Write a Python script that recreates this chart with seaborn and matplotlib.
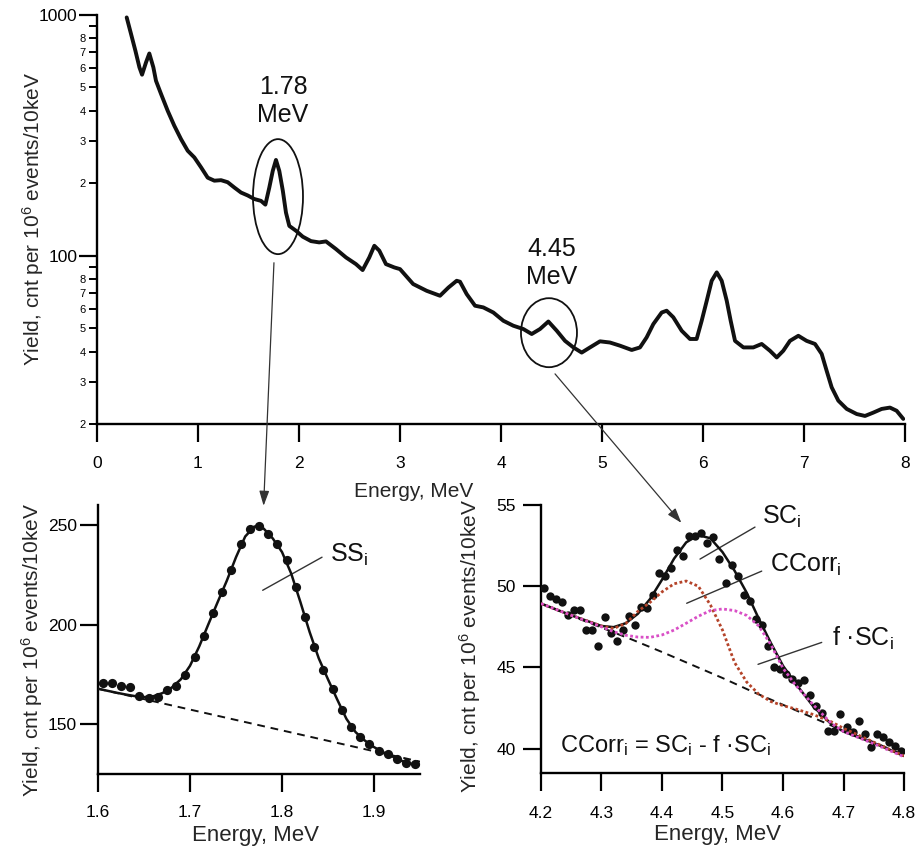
import matplotlib
matplotlib.use("Agg")
import matplotlib.pyplot as plt
import matplotlib.ticker as mticker
from matplotlib.patches import Ellipse, ConnectionPatch
from matplotlib.transforms import IdentityTransform
import seaborn as sns

# ---------------- full gamma spectrum (log scale) ----------------
spectrum_energy = [
    0.294, 0.337, 0.380, 0.420, 0.446, 0.485, 0.518, 0.558, 0.584, 0.634,
    0.700, 0.765, 0.832, 0.898, 0.964, 1.030, 1.096, 1.162, 1.228, 1.294,
    1.360, 1.426, 1.492, 1.558, 1.624, 1.667, 1.706, 1.740, 1.772, 1.805,
    1.840, 1.871, 1.904, 1.970, 2.037, 2.119, 2.200, 2.267, 2.366, 2.465,
    2.564, 2.630, 2.696, 2.746, 2.795, 2.861, 2.944, 3.000, 3.130, 3.264,
    3.396, 3.480, 3.561, 3.594, 3.660, 3.743, 3.825, 3.924, 4.023, 4.122,
    4.221, 4.304, 4.386, 4.469, 4.552, 4.634, 4.717, 4.799, 4.881, 4.980,
    5.079, 5.178, 5.294, 5.376, 5.442, 5.508, 5.591, 5.640, 5.706, 5.789,
    5.871, 5.937, 5.987, 6.037, 6.086, 6.136, 6.185, 6.235, 6.274, 6.317,
    6.400, 6.498, 6.581, 6.663, 6.730, 6.795, 6.861, 6.944, 7.026, 7.109,
    7.175, 7.224, 7.274, 7.340, 7.423, 7.522, 7.604, 7.686, 7.769, 7.851,
    7.917, 7.983,
]
spectrum_yield = [
    977, 834, 711, 606, 565, 635, 692, 606, 533, 470,
    400, 347, 305, 273, 256, 233, 211, 205, 206, 202,
    192, 183, 178, 172, 169, 163, 192, 225, 250, 225,
    186, 151, 133, 127, 120, 115, 113.6, 114.7, 106.6, 98.4,
    92.3, 87.2, 98.4, 110, 105, 92.3, 89.4, 88, 76.3, 71.5,
    68.2, 73.8, 78.7, 78.0, 69.3, 62, 61, 58.1, 53.7, 51.2,
    49.6, 47.3, 49.6, 53.3, 48.8, 44.3, 41.6, 39.6, 41.6, 44.1,
    43.6, 42.3, 40.6, 41.6, 45.8, 52, 58.1, 59.1, 55.5, 48.8,
    45.1, 45.1, 53.7, 65, 78.7, 85.3, 78.7, 65, 53.7, 44.3,
    41.6, 41.6, 43, 40.3, 37.8, 40.3, 44.3, 46.5, 44.3, 43,
    39.1, 33.3, 28.4, 25, 23.1, 22, 21.6, 22.3, 23.1, 23.4,
    22.7, 21,
]
major_yticks = [100, 1000]
major_ylabels = ["100", "1000"]
minor_yticks = [20, 30, 40, 50, 60, 70, 80, 90,
                200, 300, 400, 500, 600, 700, 800, 900]
top_xticks = [0, 1, 2, 3, 4, 5, 6, 7, 8]

# ---------------- 1.78 MeV peak ----------------
ss_energy = [
    1.605, 1.615, 1.625, 1.635, 1.645, 1.655, 1.665, 1.675, 1.685, 1.695,
    1.705, 1.715, 1.725, 1.735, 1.745, 1.755, 1.765, 1.775, 1.785, 1.795,
    1.805, 1.815, 1.825, 1.835, 1.845, 1.855, 1.865, 1.875, 1.885, 1.895,
    1.905, 1.915, 1.925, 1.935, 1.945,
]
ss_yield = [
    170.5, 170.5, 169.2, 168.7, 164.1, 163.3, 163.8, 167.0, 169.2, 174.7,
    183.8, 194.4, 205.7, 216.3, 227.3, 240.4, 248.0, 249.7, 245.5, 240.2,
    232.3, 218.9, 203.7, 188.9, 177.1, 167.8, 156.9, 148.5, 143.4, 140.2,
    136.7, 135.0, 132.7, 130.5, 130.0,
]
ss_fit_energy = [
    1.60, 1.61, 1.62, 1.63, 1.64, 1.65, 1.66, 1.67, 1.68, 1.69,
    1.70, 1.71, 1.72, 1.73, 1.74, 1.75, 1.76, 1.77, 1.78, 1.79,
    1.80, 1.81, 1.82, 1.83, 1.84, 1.85, 1.86, 1.87, 1.88, 1.89,
    1.90, 1.91, 1.92, 1.93, 1.94, 1.95,
]
ss_fit = [
    167.8, 166.8, 165.8, 164.9, 164.1, 163.6, 164.0, 165.6, 168.3, 172.5,
    179.3, 189.0, 200.2, 211.2, 222.0, 233.8, 244.2, 249.2, 248.2, 243.2,
    236.4, 225.6, 211.3, 196.3, 183.0, 172.5, 162.4, 152.7, 146.0, 141.8,
    138.5, 135.9, 133.8, 131.6, 130.2, 129.5,
]
ss_bg_energy = [1.60, 1.95]
ss_bg = [167.8, 131.2]
ss_xticks = [1.6, 1.7, 1.8, 1.9]
ss_yticks = [150, 200, 250]

# ---------------- 4.45 MeV peak ----------------
sc_energy = [
    4.205, 4.215, 4.225, 4.235, 4.245, 4.255, 4.265, 4.275, 4.285, 4.295,
    4.305, 4.315, 4.325, 4.335, 4.345, 4.355, 4.365, 4.375, 4.385, 4.395,
    4.405, 4.415, 4.425, 4.435, 4.445, 4.455, 4.465, 4.475, 4.485, 4.495,
    4.505, 4.515, 4.525, 4.535, 4.545, 4.555, 4.565, 4.575, 4.585, 4.595,
    4.605, 4.615, 4.625, 4.635, 4.645, 4.655, 4.665, 4.675, 4.685, 4.695,
    4.705, 4.715, 4.725, 4.735, 4.745, 4.755, 4.765, 4.775, 4.785, 4.795,
]
sc_yield = [
    49.92, 49.40, 49.20, 49.03, 48.21, 48.52, 48.52, 47.33, 47.33, 46.30,
    48.11, 47.12, 46.63, 47.28, 48.15, 47.59, 48.72, 48.68, 49.44, 50.82,
    50.62, 51.15, 52.22, 51.85, 53.09, 53.09, 53.25, 52.63, 53.00, 51.65,
    50.21, 51.30, 50.62, 49.44, 49.09, 48.00, 47.59, 46.30, 45.02, 44.92,
    44.61, 44.30, 44.03, 44.20, 43.31, 42.65, 42.18, 41.11, 41.11, 42.14,
    41.32, 41.01, 41.73, 40.91, 40.12, 40.91, 40.70, 40.39, 40.19, 39.84,
]
sc_curve_energy = [
    4.20, 4.25, 4.30, 4.32, 4.34, 4.36, 4.38, 4.40, 4.42, 4.44,
    4.46, 4.48, 4.50, 4.52, 4.54, 4.56, 4.58, 4.60, 4.62, 4.65,
    4.68, 4.70, 4.75, 4.80,
]
sc_fit = [
    48.93, 48.21, 47.55, 47.48, 47.72, 48.30, 49.20, 50.40, 51.70, 52.70,
    53.15, 52.95, 52.10, 50.95, 49.60, 48.00, 46.50, 45.10, 44.05, 42.60,
    41.50, 41.05, 40.35, 39.55,
]
ccorr_fit = [
    48.93, 48.21, 47.55, 47.40, 47.70, 48.45, 49.00, 49.65, 50.15, 50.32,
    50.00, 48.85, 47.30, 45.30, 44.10, 43.35, 42.90, 42.65, 42.45, 42.10,
    41.65, 41.25, 40.40, 39.55,
]
fsc_fit = [
    48.93, 48.21, 47.50, 47.20, 46.98, 46.87, 46.85, 47.00, 47.30, 47.72,
    48.15, 48.50, 48.60, 48.50, 48.20, 47.55, 46.40, 44.95, 43.95, 42.70,
    41.55, 41.05, 40.30, 39.50,
]
sc_bg_energy = [4.20, 4.25, 4.30, 4.35, 4.40, 4.45, 4.50, 4.55, 4.60,
                4.65, 4.70, 4.75, 4.80]
sc_bg = [48.93, 48.18, 47.45, 46.72, 45.95, 45.15, 44.35, 43.50, 42.70,
         41.90, 41.10, 40.40, 39.60]
sc_xticks = [4.2, 4.3, 4.4, 4.5, 4.6, 4.7, 4.8]
sc_yticks = [40, 45, 50, 55]

# ---------------- style ----------------
sns.set_style("ticks")
plt.rcParams["font.family"] = ["Liberation Sans", "DejaVu Sans"]
plt.rcParams["mathtext.fontset"] = "custom"
plt.rcParams["mathtext.rm"] = "Liberation Sans"
plt.rcParams["mathtext.it"] = "Liberation Sans:italic"
plt.rcParams["mathtext.default"] = "regular"
plt.rcParams["axes.edgecolor"] = "black"
plt.rcParams["xtick.color"] = "black"
plt.rcParams["ytick.color"] = "black"
plt.rcParams["text.color"] = "#111111"

INK = "#111111"
RED = "#b5442a"
PINK = "#d94fc6"
GREY = "#333333"
YLABEL = "Yield, cnt per 10$^{6}$ events/10keV"

W, H = 920, 852
fig = plt.figure(figsize=(W / 100, H / 100), dpi=100)
ax_top = fig.add_axes([97 / W, 1 - 424 / H, 808 / W, 409 / H])
ax_ss = fig.add_axes([98 / W, 1 - 774 / H, 322 / W, 269 / H])
ax_sc = fig.add_axes([541 / W, 1 - 773 / H, 363 / W, 268 / H])

# ---- top panel: spectrum ----
sns.lineplot(x=spectrum_energy, y=spectrum_yield, ax=ax_top, color=INK,
             linewidth=2.8, estimator=None, sort=False)
ax_top.set_yscale("log")
ax_top.set_xlim(0, 8)
ax_top.set_ylim(20, 1000)
ax_top.set_xticks(top_xticks)
ax_top.set_xticklabels([str(t) for t in top_xticks])
ax_top.yaxis.set_major_locator(mticker.FixedLocator(major_yticks))
ax_top.yaxis.set_major_formatter(mticker.FixedFormatter(major_ylabels))
ax_top.yaxis.set_minor_locator(mticker.FixedLocator(minor_yticks))
ax_top.yaxis.set_minor_formatter(mticker.FuncFormatter(
    lambda v, p: "" if str(int(round(v)))[0] == "9" else str(int(round(v)))[0]))
ax_top.set_xlabel("Energy, MeV", fontsize=15, va="center")
ax_top.xaxis.set_label_coords(0.392, -0.166)
ax_top.set_ylabel(YLABEL, fontsize=15, va="center")
ax_top.yaxis.set_label_coords(-0.079, 0.50)

ax_top.text(1.842, 440, "1.78\nMeV", ha="center", va="center",
            fontsize=18, linespacing=1.2)
ax_top.text(4.505, 93, "4.45\nMeV", ha="center", va="center",
            fontsize=18, linespacing=1.2)

# ---- lower left: 1.78 MeV ----
sns.lineplot(x=ss_bg_energy, y=ss_bg, ax=ax_ss, color=INK, linewidth=1.4,
             linestyle=(0, (4, 3)), estimator=None, sort=False, zorder=2)
sns.lineplot(x=ss_fit_energy, y=ss_fit, ax=ax_ss, color=INK, linewidth=1.8,
             estimator=None, sort=False, zorder=3)
sns.scatterplot(x=ss_energy, y=ss_yield, ax=ax_ss, color=INK, s=44,
                linewidth=0, zorder=4)
ax_ss.set_xlim(1.6, 1.95)
ax_ss.set_ylim(125, 260)
ax_ss.set_xticks(ss_xticks)
ax_ss.set_xticklabels([f"{t:.1f}" for t in ss_xticks])
ax_ss.set_yticks(ss_yticks)
ax_ss.set_yticklabels([str(t) for t in ss_yticks])
ax_ss.set_xlabel("Energy, MeV", fontsize=16, va="center")
ax_ss.xaxis.set_label_coords(0.488, -0.227)
ax_ss.set_ylabel(YLABEL, fontsize=15, va="center")
ax_ss.yaxis.set_label_coords(-0.205, 0.461)
ax_ss.plot([1.779, 1.8435], [217.2, 233.8], color=GREY, lw=1.0)
ax_ss.text(1.852, 234.8, "SS$_{i}$", fontsize=18, ha="left", va="center")

# ---- lower right: 4.45 MeV ----
sns.lineplot(x=sc_bg_energy, y=sc_bg, ax=ax_sc, color=INK, linewidth=1.4,
             linestyle=(0, (4, 3)), estimator=None, sort=False, zorder=2)
sns.lineplot(x=sc_curve_energy, y=sc_fit, ax=ax_sc, color=INK, linewidth=1.8,
             estimator=None, sort=False, zorder=3)
sns.scatterplot(x=sc_energy, y=sc_yield, ax=ax_sc, color=INK, s=36,
                linewidth=0, zorder=4)
sns.lineplot(x=sc_curve_energy, y=ccorr_fit, ax=ax_sc, color=RED,
             linewidth=2.0, linestyle=(0, (1, 0.9)), estimator=None,
             sort=False, zorder=5)
sns.lineplot(x=sc_curve_energy, y=fsc_fit, ax=ax_sc, color=PINK,
             linewidth=2.0, linestyle=(0, (1, 0.9)), estimator=None,
             sort=False, zorder=5)
ax_sc.set_xlim(4.2, 4.8)
ax_sc.set_ylim(38.5, 55)
ax_sc.set_xticks(sc_xticks)
ax_sc.set_xticklabels([f"{t:.1f}" for t in sc_xticks])
ax_sc.set_yticks(sc_yticks)
ax_sc.set_yticklabels([str(t) for t in sc_yticks])
ax_sc.set_xlabel("Energy, MeV", fontsize=16, va="center")
ax_sc.xaxis.set_label_coords(0.485, -0.231)
ax_sc.set_ylabel(YLABEL, fontsize=15, va="center")
ax_sc.yaxis.set_label_coords(-0.196, 0.474)

ax_sc.plot([4.4628, 4.5537], [51.67, 53.64], color=GREY, lw=1.0)
ax_sc.text(4.5648, 54.26, "SC$_{i}$", fontsize=18, ha="left", va="center")
ax_sc.plot([4.4408, 4.5648], [48.95, 50.93], color=GREY, lw=1.0)
ax_sc.text(4.5785, 51.30, "CCorr$_{i}$", fontsize=18, ha="left", va="center")
ax_sc.plot([4.5587, 4.664], [45.19, 46.54], color=GREY, lw=1.0)
ax_sc.text(4.6805, 46.79, "f \u00b7SC$_{i}$", fontsize=18, ha="left",
           va="center")
ax_sc.text(4.2314, 40.19, "CCorr$_{i}$ = SC$_{i}$ - f \u00b7SC$_{i}$",
           fontsize=17, ha="left", va="center")

# ---- frame and tick styling for all three panels ----
for ax in (ax_top, ax_ss, ax_sc):
    ax.set_facecolor("white")
    for side in ("top", "right"):
        ax.spines[side].set_visible(False)
    for side in ("left", "bottom"):
        ax.spines[side].set_linewidth(1.7)
    ax.tick_params(axis="both", which="major", direction="out", length=13,
                   width=1.6, labelsize=12.5, colors="black")
ax_top.tick_params(axis="y", which="major", pad=1)
ax_top.tick_params(axis="y", which="minor", direction="out", length=6,
                   width=1.4, labelsize=8, pad=2)
ax_top.tick_params(axis="x", which="major", pad=10)
ax_ss.tick_params(axis="y", pad=2)
ax_ss.tick_params(axis="x", pad=9)
ax_sc.tick_params(axis="y", pad=5)
ax_sc.tick_params(axis="x", pad=11)

# ---- ellipses around the two lines and zoom arrows ----
for (ex, ey, w, h) in [(1.792, 176.0, 50, 115), (4.475, 47.9, 56, 69)]:
    cx, cy = ax_top.transData.transform((ex, ey))
    fig.add_artist(Ellipse((cx, cy), w, h, transform=IdentityTransform(),
                           fill=False, edgecolor=INK, linewidth=1.3))

arrow_style = matplotlib.patches.ArrowStyle("-|>", head_length=0.9,
                                            head_width=0.3)
for (xa, ya, axb, xb, yb) in [(1.752, 93.5, ax_ss, 1.780, 259.6),
                              (4.535, 32.3, ax_sc, 4.432, 53.9)]:
    con = ConnectionPatch(xyA=(xa, ya), coordsA=ax_top.transData,
                          xyB=(xb, yb), coordsB=axb.transData,
                          arrowstyle=arrow_style, mutation_scale=10,
                          color=GREY, linewidth=0.9, shrinkA=0, shrinkB=0)
    fig.add_artist(con)

fig.savefig("out.png", dpi=100, facecolor="white")
